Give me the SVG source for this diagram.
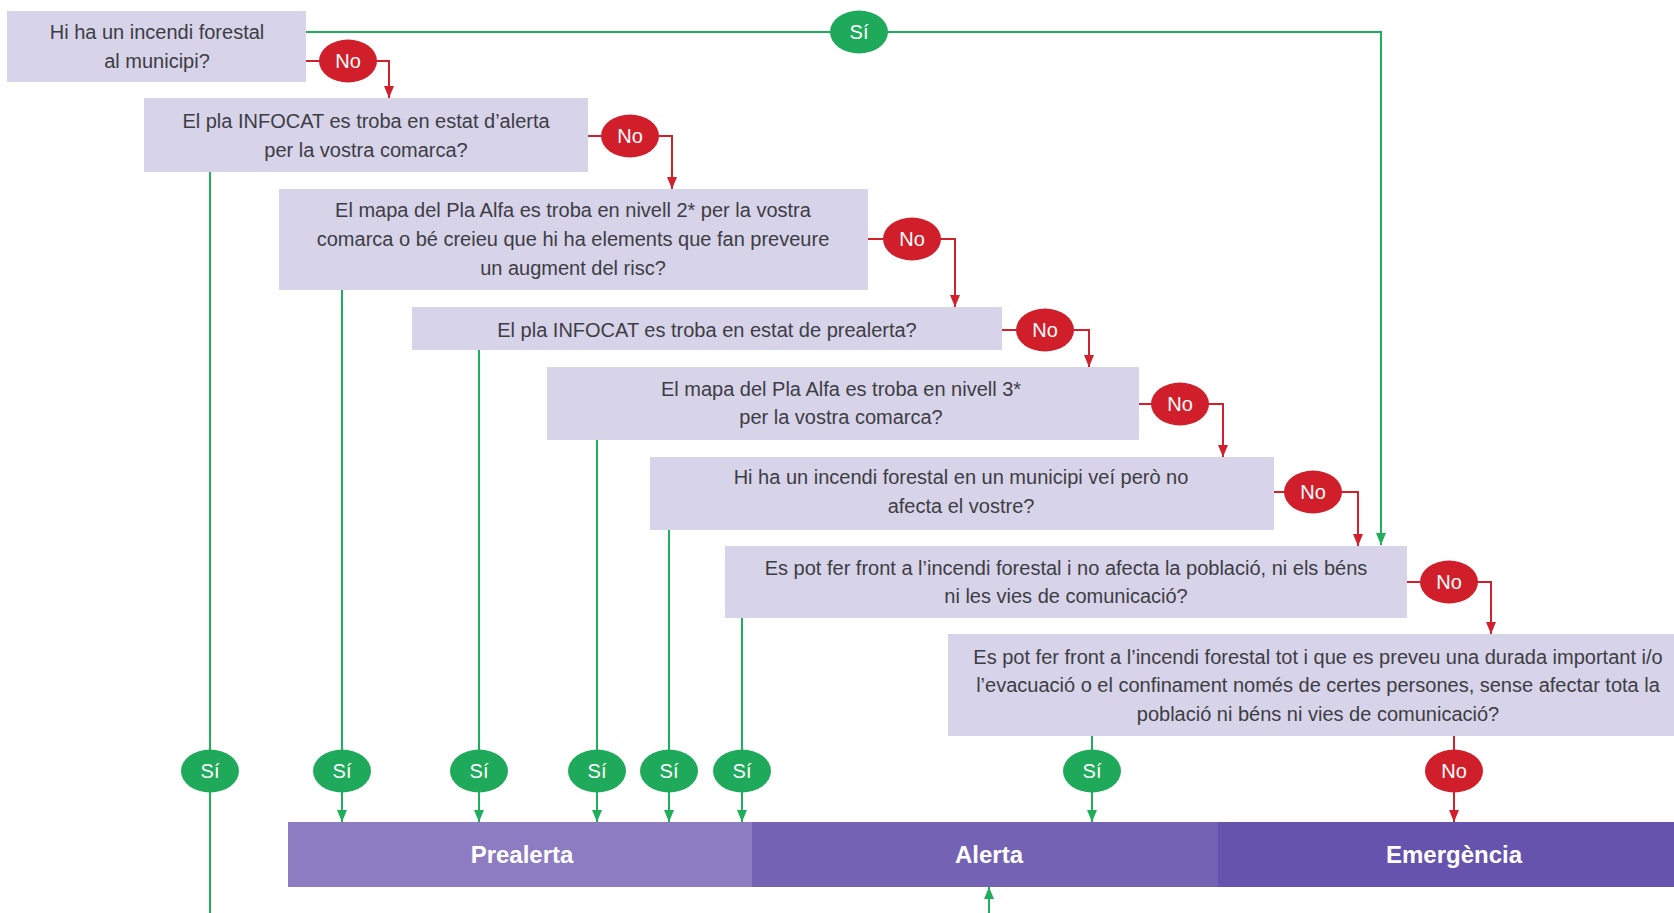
<svg xmlns="http://www.w3.org/2000/svg" width="1674" height="913" viewBox="0 0 1674 913">
<defs>
<style>
.box{fill:#d7d3e9;}
.q{font-family:"Liberation Sans",Arial,sans-serif;font-size:20px;fill:#3d3d44;text-anchor:middle;}
.lbl{font-family:"Liberation Sans",Arial,sans-serif;font-size:20px;fill:#ffffff;text-anchor:middle;}
.bar{font-family:"Liberation Sans",Arial,sans-serif;font-size:24px;font-weight:bold;fill:#ffffff;text-anchor:middle;}
.g{fill:none;stroke:#1fae5c;stroke-width:2;}
.r{fill:none;stroke:#d2202c;stroke-width:2;}
.ge{fill:#1fa95a;}
.re{fill:#d01e2a;}
</style>
<marker id="ag" viewBox="0 0 12 10" refX="12" refY="5" markerWidth="12" markerHeight="10" markerUnits="userSpaceOnUse" orient="auto"><path d="M0,0 L12,5 L0,10 z" fill="#1fae5c"/></marker>
<marker id="ar" viewBox="0 0 12 10" refX="12" refY="5" markerWidth="12" markerHeight="10" markerUnits="userSpaceOnUse" orient="auto"><path d="M0,0 L12,5 L0,10 z" fill="#d2202c"/></marker>
</defs>
<rect width="1674" height="913" fill="#ffffff"/>

<g id="connectors">
<path class="g" d="M306,32 H1381 V545" marker-end="url(#ag)"/>
<path class="g" d="M210,172 V913"/>
<path class="g" d="M342,290 V822" marker-end="url(#ag)"/>
<path class="g" d="M479,350 V822" marker-end="url(#ag)"/>
<path class="g" d="M597,440 V822" marker-end="url(#ag)"/>
<path class="g" d="M669,530 V822" marker-end="url(#ag)"/>
<path class="g" d="M742,618 V822" marker-end="url(#ag)"/>
<path class="g" d="M1092,736 V822" marker-end="url(#ag)"/>
<path class="g" d="M989,913 V887" marker-end="url(#ag)"/>
<path class="r" d="M306,61 H389 V98" marker-end="url(#ar)"/>
<path class="r" d="M588,136 H672 V189" marker-end="url(#ar)"/>
<path class="r" d="M868,239 H955 V307" marker-end="url(#ar)"/>
<path class="r" d="M1002,330 H1089 V367" marker-end="url(#ar)"/>
<path class="r" d="M1139,404 H1223 V457" marker-end="url(#ar)"/>
<path class="r" d="M1274,492 H1358 V546" marker-end="url(#ar)"/>
<path class="r" d="M1407,582 H1491 V634" marker-end="url(#ar)"/>
<path class="r" d="M1454,736 V822" marker-end="url(#ar)"/>
</g>

<g id="q1"><rect class="box" x="7" y="11" width="299" height="71"/>
<text class="q" x="157" y="39">Hi ha un incendi forestal</text>
<text class="q" x="157" y="68">al municipi?</text></g>

<g id="q2"><rect class="box" x="144" y="98" width="444" height="74"/>
<text class="q" x="366" y="128">El pla INFOCAT es troba en estat d’alerta</text>
<text class="q" x="366" y="157">per la vostra comarca?</text></g>

<g id="q3"><rect class="box" x="279" y="189" width="589" height="101"/>
<text class="q" x="573" y="217">El mapa del Pla Alfa es troba en nivell 2* per la vostra</text>
<text class="q" x="573" y="246">comarca o bé creieu que hi ha elements que fan preveure</text>
<text class="q" x="573" y="275">un augment del risc?</text></g>

<g id="q4"><rect class="box" x="412" y="307" width="590" height="43"/>
<text class="q" x="707" y="337">El pla INFOCAT es troba en estat de prealerta?</text></g>

<g id="q5"><rect class="box" x="547" y="367" width="592" height="73"/>
<text class="q" x="841" y="396">El mapa del Pla Alfa es troba en nivell 3*</text>
<text class="q" x="841" y="424">per la vostra comarca?</text></g>

<g id="q6"><rect class="box" x="650" y="457" width="624" height="73"/>
<text class="q" x="961" y="484">Hi ha un incendi forestal en un municipi veí però no</text>
<text class="q" x="961" y="513">afecta el vostre?</text></g>

<g id="q7"><rect class="box" x="725" y="546" width="682" height="72"/>
<text class="q" x="1066" y="575">Es pot fer front a l’incendi forestal i no afecta la població, ni els béns</text>
<text class="q" x="1066" y="603">ni les vies de comunicació?</text></g>

<g id="q8"><rect class="box" x="948" y="634" width="726" height="102"/>
<text class="q" x="1318" y="664">Es pot fer front a l’incendi forestal tot i que es preveu una durada important i/o</text>
<text class="q" x="1318" y="692">l’evacuació o el confinament només de certes persones, sense afectar tota la</text>
<text class="q" x="1318" y="721">població ni béns ni vies de comunicació?</text></g>

<g id="labels">
<g id="si-top"><ellipse class="ge" cx="859" cy="32" rx="29" ry="21.5"/><text class="lbl" x="859" y="39">Sí</text></g>
<g id="no1"><ellipse class="re" cx="348" cy="61" rx="29" ry="21.5"/><text class="lbl" x="348" y="68">No</text></g>
<g id="no2"><ellipse class="re" cx="630" cy="136" rx="29" ry="21.5"/><text class="lbl" x="630" y="143">No</text></g>
<g id="no3"><ellipse class="re" cx="912" cy="239" rx="29" ry="21.5"/><text class="lbl" x="912" y="246">No</text></g>
<g id="no4"><ellipse class="re" cx="1045" cy="330" rx="29" ry="21.5"/><text class="lbl" x="1045" y="337">No</text></g>
<g id="no5"><ellipse class="re" cx="1180" cy="404" rx="29" ry="21.5"/><text class="lbl" x="1180" y="411">No</text></g>
<g id="no6"><ellipse class="re" cx="1313" cy="492" rx="29" ry="21.5"/><text class="lbl" x="1313" y="499">No</text></g>
<g id="no7"><ellipse class="re" cx="1449" cy="582" rx="29" ry="21.5"/><text class="lbl" x="1449" y="589">No</text></g>
<g id="no8"><ellipse class="re" cx="1454" cy="771" rx="29" ry="21.5"/><text class="lbl" x="1454" y="778">No</text></g>
<g id="si1"><ellipse class="ge" cx="210" cy="771" rx="29" ry="21.5"/><text class="lbl" x="210" y="778">Sí</text></g>
<g id="si2"><ellipse class="ge" cx="342" cy="771" rx="29" ry="21.5"/><text class="lbl" x="342" y="778">Sí</text></g>
<g id="si3"><ellipse class="ge" cx="479" cy="771" rx="29" ry="21.5"/><text class="lbl" x="479" y="778">Sí</text></g>
<g id="si4"><ellipse class="ge" cx="597" cy="771" rx="29" ry="21.5"/><text class="lbl" x="597" y="778">Sí</text></g>
<g id="si5"><ellipse class="ge" cx="669" cy="771" rx="29" ry="21.5"/><text class="lbl" x="669" y="778">Sí</text></g>
<g id="si6"><ellipse class="ge" cx="742" cy="771" rx="29" ry="21.5"/><text class="lbl" x="742" y="778">Sí</text></g>
<g id="si7"><ellipse class="ge" cx="1092" cy="771" rx="29" ry="21.5"/><text class="lbl" x="1092" y="778">Sí</text></g>
</g>

<g id="levels">
<g id="prealerta"><rect x="288" y="822" width="464" height="65" fill="#8e7cc3"/><text class="bar" x="522" y="863">Prealerta</text></g>
<g id="alerta"><rect x="752" y="822" width="466" height="65" fill="#7462b5"/><text class="bar" x="989" y="863">Alerta</text></g>
<g id="emergencia"><rect x="1218" y="822" width="456" height="65" fill="#6653ad"/><text class="bar" x="1454" y="863">Emergència</text></g>
</g>
</svg>
